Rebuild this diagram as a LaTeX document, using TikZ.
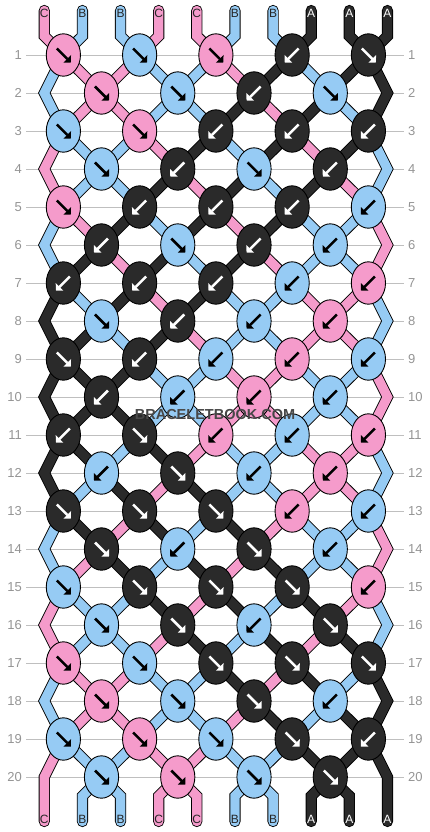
\documentclass[tikz,border=0pt]{standalone}
\usepackage{fontspec}
\setmainfont{Liberation Sans}
\usetikzlibrary{shapes.geometric,arrows.meta}
\definecolor{strA}{HTML}{2A2A2A}
\definecolor{strB}{HTML}{96CBF4}
\definecolor{strC}{HTML}{F59BCB}
\colorlet{guidegray}{black!25}
\colorlet{rowgray}{black!42}
\pgfdeclarelayer{bg}
\pgfsetlayers{bg,main}
\def\leftx{44.3}
\def\knotdx{38.13}
\def\topy{55}
\def\knotdy{38}
\tikzset{
  knot/.style={ellipse,draw,line width=0.9pt,fill=str#1,minimum width=34.2pt,minimum height=42.4pt,inner sep=0pt},
  knotarrow/.style={line width=2.5pt,-{Triangle[width=10.5pt,length=5.2pt]}},
  tipA/.style={white}, tipB/.style={black}, tipC/.style={black},
  strand/.style={line width=0.9pt,double=str#1,double distance=9.4pt,line join=miter,line cap=round},
  endlabel/.style={inner sep=0pt,font=\fontsize{12}{14}\selectfont},
  labA/.style={text=white}, labB/.style={text=black!85}, labC/.style={text=black!85},
  rownum/.style={inner xsep=4pt,text=rowgray,font=\fontsize{13}{15}\selectfont},
  guide/.style={draw=guidegray,line width=0.9pt},
}

\begin{document}
\begin{tikzpicture}[x=1pt,y=-1pt]
\useasboundingbox (0,0) rectangle (430,832);
% knots, row by row: colour / direction
\foreach \r/\row in {
  1/{C/F,B/F,C/F,A/B,A/F},
  2/{C/F,B/F,A/B,B/F},
  3/{B/F,C/F,A/B,A/B,A/B},
  4/{B/F,A/B,B/F,A/B},
  5/{C/F,A/B,A/B,A/B,B/B},
  6/{A/B,B/F,A/B,B/B},
  7/{A/B,A/B,A/B,B/B,C/B},
  8/{B/F,A/B,B/B,C/B},
  9/{A/F,A/B,B/B,C/B,B/B},
  10/{A/B,B/B,C/B,B/B},
  11/{A/B,A/F,C/B,B/B,C/B},
  12/{B/B,A/F,B/B,C/B},
  13/{A/F,A/F,A/F,C/B,B/B},
  14/{A/F,B/B,A/F,B/B},
  15/{B/F,A/F,A/F,A/F,C/B},
  16/{B/F,A/F,B/B,A/F},
  17/{C/F,B/F,A/F,A/F,A/F},
  18/{C/F,B/F,A/F,B/B},
  19/{B/F,C/F,B/F,A/F,A/B},
  20/{B/F,C/F,B/F,A/F}}{
  \foreach \col/\way [count=\j from 0] in \row {
    \pgfmathtruncatemacro\m{2*\j+1-mod(\r,2)}
    \pgfmathsetmacro\kx{\leftx+(\m+0.5)*\knotdx}
    \pgfmathsetmacro\ky{\topy+(\r-1)*\knotdy}
    \if\way F\def\s{1}\else\def\s{-1}\fi
    \node[knot=\col] (n\r-\m) at (\kx,\ky) {};
    \draw[knotarrow,tip\col] ({\kx-6.5*\s},{\ky-6.5}) -- ({\kx+7.5*\s},{\ky+7.5});
  }
}
\foreach \r in {2,4,...,20}{
  \pgfmathsetmacro\ky{\topy+(\r-1)*\knotdy}
  \coordinate (n\r-0) at (\leftx,\ky);
  \coordinate (n\r-9) at ({\leftx+9*\knotdx},\ky);
}
\foreach \col [count=\p from 0] in {C,B,B,C,C,B,B,A,A,A}{
  \pgfmathsetmacro\sx{\leftx+\p*\knotdx}
  \coordinate (t\p) at (\sx,10.5);
  \coordinate (u\p) at (\sx,{\topy-\knotdy/2});
  \coordinate (v\p) at (\sx,{\topy+19.5*\knotdy});
  \coordinate (w\p) at (\sx,821.5);
  \node[endlabel,lab\col] (top\p) at (\sx,13) {\col};
}
\foreach \col [count=\p from 0] in {C,B,B,C,C,B,B,A,A,A}
  \node[endlabel,lab\col] (bot\p) at ({\leftx+\p*\knotdx},819) {\col};

\begin{pgfonlayer}{bg}
\foreach \r in {1,...,20}{
  \pgfmathsetmacro\ky{\topy+(\r-1)*\knotdy}
  \node[rownum,anchor=east] (ln\r) at (26,\ky) {\r};
  \node[rownum,anchor=west] (rn\r) at (404,\ky) {\r};
  \draw[guide] (ln\r.east) -- (rn\r.west);
}
% each string from top to bottom
\foreach \col [count=\p from 0] in {C,B,B,C,C,B,B,A,A,A}{
  \xdef\q{\p}
  \xdef\trace{(t\p.center) -- (u\p.center)}
  \foreach \r in {1,...,20}{
    \pgfmathtruncatemacro\nq{mod(\r,2)==1 ? \q+1-2*mod(\q,2) : ((\q==0 || \q==9) ? \q : \q-1+2*mod(\q,2))}
    \pgfmathtruncatemacro\m{min(\q,\nq)}
    \xdef\trace{\trace -- (n\r-\m.center)}
    \xdef\q{\nq}
  }
  \draw[strand=\col] \trace -- (v\q.center) -- (w\q.center);
}
\end{pgfonlayer}

\node[font=\bfseries\fontsize{14.5}{16}\selectfont,text=black!72] (mark) at (215,415) {BRACELETBOOK.COM};
\end{tikzpicture}
\end{document}
